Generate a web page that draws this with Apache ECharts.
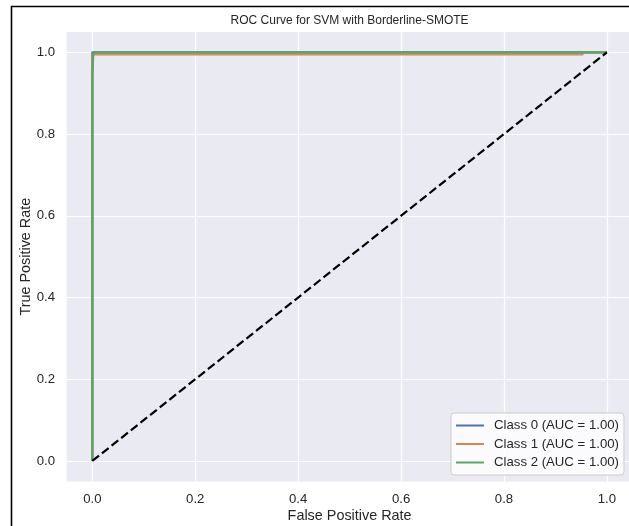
<!DOCTYPE html>
<html>
<head>
<meta charset="utf-8">
<script src="https://cdn.jsdelivr.net/npm/echarts@6/dist/echarts.min.js"></script>
<style>
html,body{margin:0;padding:0;background:#fff;}
#chart{width:629px;height:526px;}
</style>
</head>
<body>
<div id="chart"></div>
<script>
// ---- data ----
const titleText = "ROC Curve for SVM with Borderline-SMOTE";
const xAxisName = "False Positive Rate";
const yAxisName = "True Positive Rate";
const tickValues = [0, 0.2, 0.4, 0.6, 0.8, 1.0];
const seriesNames = ["Class 0 (AUC = 1.00)", "Class 1 (AUC = 1.00)", "Class 2 (AUC = 1.00)"];
const class0Fpr = [0, 0, 1];
const class0Tpr = [0, 1, 1];
const class1Fpr = [0, 0, 0.953, 0.953, 1];
const class1Tpr = [0, 0.995, 0.995, 1, 1];
const class2Fpr = [0, 0, 0.002, 0.002, 1];
const class2Tpr = [0, 0.944, 0.944, 1, 1];
const chanceFpr = [0, 1];
const chanceTpr = [0, 1];

const colors = ["#4C72B0", "#DD8452", "#55A868"];
const textColor = "#262626";
const font = "'Liberation Sans', Arial, sans-serif";

function pairs(xs, ys) { return xs.map((x, i) => [x, ys[i]]); }

const chart = echarts.init(document.getElementById('chart'), null, {renderer: 'canvas'});

const axisCommon = {
  type: 'value',
  min: -0.05,
  max: 1.05,
  axisLine: {show: false},
  axisTick: {show: false, customValues: tickValues},
  splitLine: {show: true, lineStyle: {color: '#ffffff', width: 1.2}},
  axisLabel: {
    customValues: tickValues,
    color: textColor,
    fontFamily: font,
    fontSize: 13.2,
    margin: 11.5,
    formatter: v => v.toFixed(1)
  },
  nameTextStyle: {color: textColor, fontFamily: font, fontSize: 14.4},
  nameLocation: 'middle',
  nameMoveOverlap: false
};

const lineSeries = [
  {name: seriesNames[0], data: pairs(class0Fpr, class0Tpr), color: colors[0]},
  {name: seriesNames[1], data: pairs(class1Fpr, class1Tpr), color: colors[1]},
  {name: seriesNames[2], data: pairs(class2Fpr, class2Tpr), color: colors[2]}
].map(s => ({
  type: 'line',
  name: s.name,
  data: s.data,
  showSymbol: false,
  symbol: 'none',
  animation: false,
  itemStyle: {color: s.color},
  lineStyle: {color: s.color, width: 2.2}
}));

lineSeries.push({
  type: 'line',
  name: 'chance',
  data: pairs(chanceFpr, chanceTpr),
  showSymbol: false,
  symbol: 'none',
  animation: false,
  itemStyle: {color: '#000'},
  lineStyle: {color: '#000', width: 2.2, type: [8.5, 3.8]}
});

const option = {
  backgroundColor: '#ffffff',
  animation: false,
  grid: {
    left: 66.6, top: 31.9, width: 566, height: 449.5,
    show: true, backgroundColor: '#EAEAF2', borderWidth: 0,
    containLabel: false,
    outerBoundsMode: 'none'
  },
  xAxis: Object.assign({}, axisCommon, {name: xAxisName, nameGap: 27.4}),
  yAxis: Object.assign({}, axisCommon, {name: yAxisName, nameGap: 33.6}),
  legend: {
    data: seriesNames,
    left: 451, top: 413,
    orient: 'vertical',
    icon: 'rect',
    itemWidth: 28,
    itemHeight: 2,
    itemGap: 4.5,
    padding: [5.5, 5, 5.5, 5],
    backgroundColor: 'rgba(255,255,255,0.8)',
    borderColor: '#cccccc',
    borderWidth: 1,
    borderRadius: 3,
    textStyle: {color: textColor, fontFamily: font, fontSize: 13.2, lineHeight: 14, padding: [0, 0, 0, 5]}
  },
  graphic: [
    {
      type: 'rect', silent: true, z: -10,
      shape: {x: 11.5, y: 6.5, width: 900, height: 900},
      style: {fill: 'none', stroke: '#000', lineWidth: 1.6}
    },
    {
      type: 'text', silent: true,
      x: 349.6, y: 21,
      style: {text: titleText, fill: textColor, font: "12px 'Liberation Sans', Arial, sans-serif", textAlign: 'center', textVerticalAlign: 'middle'}
    }
  ],
  series: lineSeries
};

chart.setOption(option);
</script>
</body>
</html>
